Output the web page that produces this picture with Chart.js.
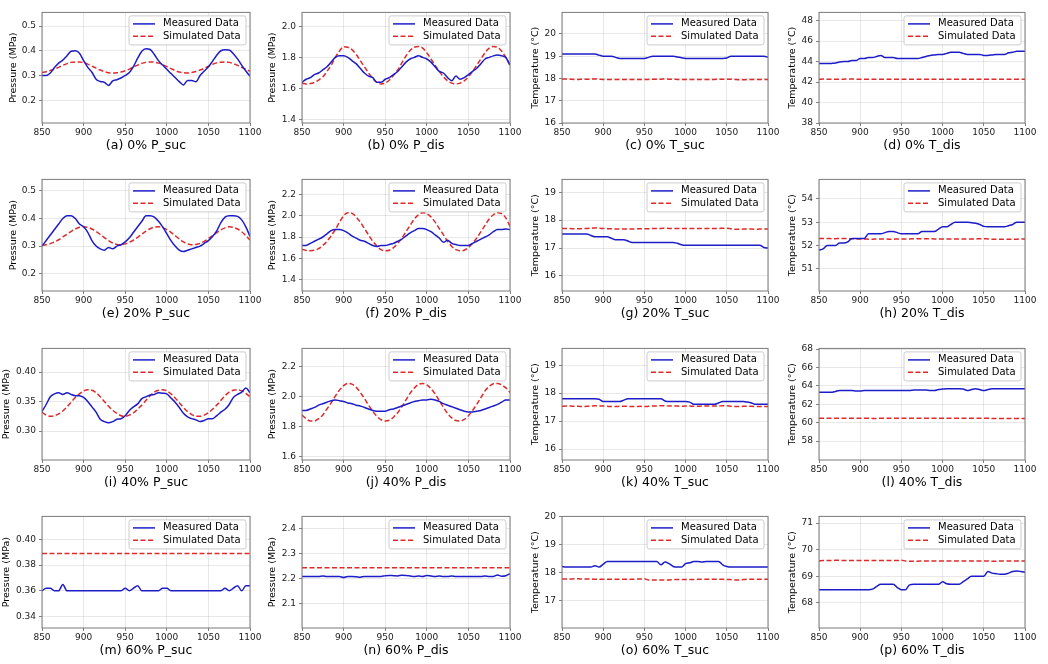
<!DOCTYPE html>
<html>
<head>
<meta charset="utf-8">
<script src="https://cdn.jsdelivr.net/npm/chart.js@4.4.0/dist/chart.umd.min.js"></script>
<style>
  body { margin: 0; background: #fff; }
  #fig { position: relative; width: 1048px; height: 664px; overflow: hidden; background: #fff; }
  #fig canvas { position: absolute; }
</style>
</head>
<body>
<div id="fig"></div>
<script>
// time axis (s), shared by every panel
var time = [850, 855, 860, 865, 870, 875, 880, 885, 890, 895,
            900, 905, 910, 915, 920, 925, 930, 935, 940, 945,
            950, 955, 960, 965, 970, 975, 980, 985, 990, 995,
            1000, 1005, 1010, 1015, 1020, 1025, 1030, 1035, 1040, 1045,
            1050, 1055, 1060, 1065, 1070, 1075, 1080, 1085, 1090, 1095,
            1100];
var xTicks = [850, 900, 950, 1000, 1050, 1100];

// (a) 0% P_suc
var measA = [0.300, 0.300, 0.310, 0.332, 0.350, 0.362, 0.380, 0.398, 0.400, 0.390,
             0.360, 0.333, 0.313, 0.285, 0.276, 0.272, 0.260, 0.278, 0.283, 0.290,
             0.300, 0.312, 0.337, 0.370, 0.398, 0.408, 0.405, 0.385, 0.360, 0.342,
             0.325, 0.308, 0.292, 0.275, 0.262, 0.280, 0.280, 0.275, 0.300, 0.318,
             0.335, 0.358, 0.382, 0.400, 0.404, 0.403, 0.388, 0.367, 0.342, 0.318,
             0.297];
var simA = [0.312, 0.315, 0.320, 0.326, 0.333, 0.341, 0.348, 0.353, 0.355, 0.355,
            0.352, 0.346, 0.338, 0.330, 0.322, 0.316, 0.311, 0.310, 0.311, 0.314,
            0.319, 0.326, 0.334, 0.342, 0.349, 0.353, 0.355, 0.354, 0.350, 0.344,
            0.336, 0.328, 0.320, 0.314, 0.311, 0.310, 0.312, 0.316, 0.322, 0.329,
            0.337, 0.345, 0.351, 0.354, 0.355, 0.353, 0.348, 0.341, 0.333, 0.325,
            0.317];
var ticksA = [0.2, 0.3, 0.4, 0.5];

// (b) 0% P_dis
var measB = [1.640, 1.660, 1.670, 1.690, 1.700, 1.720, 1.740, 1.770, 1.800, 1.810,
             1.810, 1.800, 1.780, 1.760, 1.730, 1.700, 1.680, 1.670, 1.640, 1.640,
             1.660, 1.670, 1.690, 1.710, 1.740, 1.770, 1.790, 1.800, 1.810, 1.800,
             1.790, 1.770, 1.740, 1.710, 1.700, 1.670, 1.650, 1.680, 1.660, 1.670,
             1.690, 1.710, 1.730, 1.760, 1.790, 1.800, 1.810, 1.815, 1.810, 1.800,
             1.750];
var simB = [1.635, 1.630, 1.632, 1.640, 1.655, 1.675, 1.710, 1.750, 1.800, 1.840,
            1.868, 1.865, 1.850, 1.820, 1.780, 1.740, 1.700, 1.665, 1.640, 1.630,
            1.635, 1.655, 1.685, 1.720, 1.765, 1.810, 1.845, 1.865, 1.870, 1.860,
            1.830, 1.790, 1.750, 1.710, 1.675, 1.650, 1.635, 1.630, 1.635, 1.650,
            1.675, 1.710, 1.750, 1.790, 1.830, 1.860, 1.870, 1.865, 1.840, 1.800,
            1.750];
var ticksB = [1.4, 1.6, 1.8, 2.0];

// (c) 0% T_suc
var measC = [19.10, 19.10, 19.10, 19.10, 19.10, 19.10, 19.10, 19.10, 19.10, 19.05,
             19.00, 19.00, 19.00, 18.95, 18.90, 18.90, 18.90, 18.90, 18.90, 18.90,
             18.90, 18.95, 19.00, 19.00, 19.00, 19.00, 19.00, 19.00, 18.97, 18.93,
             18.90, 18.90, 18.90, 18.90, 18.90, 18.90, 18.90, 18.90, 18.90, 18.90,
             18.92, 19.00, 19.00, 19.00, 19.00, 19.00, 19.00, 19.00, 19.00, 19.00,
             18.95];
var simC = [17.97, 17.98, 17.97, 17.96, 17.96, 17.97, 17.97, 17.97, 17.98, 17.97,
            17.96, 17.96, 17.95, 17.96, 17.96, 17.96, 17.95, 17.95, 17.95, 17.96,
            17.96, 17.96, 17.97, 17.97, 17.97, 17.98, 17.97, 17.97, 17.96, 17.96,
            17.96, 17.96, 17.96, 17.96, 17.96, 17.96, 17.96, 17.96, 17.97, 17.97,
            17.97, 17.97, 17.96, 17.94, 17.94, 17.95, 17.95, 17.95, 17.95, 17.95,
            17.95];
var ticksC = [16, 17, 18, 19, 20];

// (d) 0% T_dis
var measD = [43.80, 43.80, 43.80, 43.82, 43.85, 43.95, 44.00, 44.00, 44.10, 44.10,
             44.30, 44.30, 44.40, 44.40, 44.50, 44.60, 44.40, 44.40, 44.40, 44.30,
             44.30, 44.30, 44.30, 44.30, 44.30, 44.40, 44.50, 44.60, 44.65, 44.70,
             44.70, 44.80, 44.90, 44.90, 44.90, 44.80, 44.70, 44.70, 44.70, 44.70,
             44.60, 44.60, 44.65, 44.70, 44.70, 44.70, 44.85, 44.90, 45.00, 45.00,
             45.00];
var simD = [42.28, 42.29, 42.28, 42.28, 42.28, 42.28, 42.28, 42.29, 42.29, 42.28,
            42.28, 42.28, 42.28, 42.28, 42.28, 42.27, 42.27, 42.28, 42.28, 42.28,
            42.28, 42.28, 42.28, 42.28, 42.28, 42.28, 42.28, 42.28, 42.28, 42.28,
            42.28, 42.28, 42.28, 42.28, 42.28, 42.28, 42.28, 42.28, 42.28, 42.28,
            42.28, 42.28, 42.28, 42.27, 42.27, 42.27, 42.28, 42.28, 42.28, 42.28,
            42.28];
var ticksD = [38, 40, 42, 44, 46, 48];

// (e) 20% P_suc
var measE = [0.300, 0.320, 0.340, 0.360, 0.380, 0.400, 0.410, 0.410, 0.400, 0.380,
             0.370, 0.350, 0.320, 0.300, 0.290, 0.285, 0.295, 0.290, 0.300, 0.305,
             0.315, 0.330, 0.350, 0.370, 0.390, 0.410, 0.410, 0.405, 0.390, 0.370,
             0.345, 0.320, 0.300, 0.285, 0.280, 0.285, 0.290, 0.295, 0.300, 0.310,
             0.320, 0.335, 0.355, 0.385, 0.405, 0.410, 0.410, 0.408, 0.395, 0.370,
             0.335];
var simE = [0.303, 0.305, 0.309, 0.315, 0.323, 0.333, 0.343, 0.353, 0.362, 0.368,
            0.370, 0.368, 0.362, 0.353, 0.342, 0.331, 0.320, 0.311, 0.306, 0.305,
            0.308, 0.314, 0.322, 0.332, 0.343, 0.354, 0.363, 0.369, 0.370, 0.367,
            0.360, 0.350, 0.338, 0.326, 0.315, 0.308, 0.305, 0.306, 0.310, 0.317,
            0.327, 0.338, 0.349, 0.359, 0.366, 0.370, 0.368, 0.362, 0.352, 0.338,
            0.322];
var ticksE = [0.2, 0.3, 0.4, 0.5];

// (f) 20% P_dis
var measF = [1.720, 1.720, 1.740, 1.760, 1.780, 1.800, 1.830, 1.860, 1.870, 1.870,
             1.860, 1.840, 1.810, 1.790, 1.770, 1.760, 1.740, 1.720, 1.710, 1.720,
             1.720, 1.730, 1.740, 1.760, 1.780, 1.810, 1.840, 1.860, 1.880, 1.880,
             1.870, 1.850, 1.820, 1.790, 1.750, 1.770, 1.740, 1.730, 1.720, 1.720,
             1.720, 1.740, 1.760, 1.780, 1.800, 1.820, 1.850, 1.870, 1.870, 1.875,
             1.870];
var simF = [1.685, 1.673, 1.670, 1.675, 1.690, 1.720, 1.760, 1.810, 1.870, 1.940,
            2.000, 2.030, 2.025, 1.990, 1.940, 1.880, 1.820, 1.760, 1.715, 1.680,
            1.670, 1.675, 1.700, 1.740, 1.790, 1.850, 1.910, 1.970, 2.010, 2.030,
            2.020, 1.990, 1.940, 1.880, 1.820, 1.760, 1.710, 1.680, 1.670, 1.675,
            1.700, 1.740, 1.790, 1.850, 1.910, 1.970, 2.010, 2.030, 2.020, 1.980,
            1.900];
var ticksF = [1.4, 1.6, 1.8, 2.0, 2.2];

// (g) 20% T_suc
var measG = [17.50, 17.50, 17.50, 17.50, 17.50, 17.50, 17.50, 17.45, 17.40, 17.40,
             17.40, 17.40, 17.35, 17.30, 17.30, 17.30, 17.25, 17.20, 17.20, 17.20,
             17.20, 17.20, 17.20, 17.20, 17.20, 17.20, 17.20, 17.20, 17.17, 17.12,
             17.10, 17.10, 17.10, 17.10, 17.10, 17.10, 17.10, 17.10, 17.10, 17.10,
             17.10, 17.10, 17.10, 17.10, 17.10, 17.10, 17.10, 17.10, 17.10, 17.02,
             17.00];
var simG = [17.70, 17.70, 17.70, 17.69, 17.69, 17.70, 17.70, 17.71, 17.72, 17.71,
            17.70, 17.69, 17.69, 17.68, 17.68, 17.68, 17.68, 17.68, 17.69, 17.69,
            17.69, 17.69, 17.70, 17.70, 17.70, 17.71, 17.70, 17.70, 17.70, 17.70,
            17.70, 17.70, 17.70, 17.70, 17.70, 17.70, 17.70, 17.70, 17.70, 17.71,
            17.71, 17.69, 17.67, 17.67, 17.68, 17.68, 17.68, 17.67, 17.68, 17.68,
            17.68];
var ticksG = [16, 17, 18, 19];

// (h) 20% T_dis
var measH = [51.80, 51.85, 52.00, 52.00, 52.00, 52.10, 52.10, 52.15, 52.30, 52.30,
             52.30, 52.30, 52.50, 52.50, 52.50, 52.50, 52.55, 52.60, 52.60, 52.55,
             52.50, 52.50, 52.50, 52.50, 52.50, 52.60, 52.60, 52.60, 52.60, 52.70,
             52.80, 52.80, 52.90, 53.00, 53.00, 53.00, 53.00, 52.98, 52.95, 52.90,
             52.82, 52.80, 52.80, 52.80, 52.80, 52.80, 52.85, 52.90, 53.00, 53.00,
             53.00];
var simH = [52.30, 52.30, 52.30, 52.29, 52.29, 52.30, 52.30, 52.29, 52.29, 52.28,
            52.28, 52.28, 52.27, 52.27, 52.28, 52.28, 52.28, 52.27, 52.27, 52.28,
            52.28, 52.28, 52.28, 52.29, 52.29, 52.29, 52.29, 52.29, 52.28, 52.28,
            52.28, 52.28, 52.28, 52.28, 52.28, 52.28, 52.28, 52.28, 52.28, 52.29,
            52.29, 52.28, 52.27, 52.27, 52.27, 52.27, 52.27, 52.27, 52.27, 52.28,
            52.28];
var ticksH = [51, 52, 53, 54];

// (i) 40% P_suc
var measI = [0.333, 0.345, 0.358, 0.363, 0.365, 0.362, 0.365, 0.362, 0.360, 0.360,
             0.357, 0.350, 0.341, 0.332, 0.320, 0.316, 0.314, 0.316, 0.320, 0.321,
             0.326, 0.335, 0.341, 0.346, 0.355, 0.358, 0.361, 0.362, 0.365, 0.364,
             0.363, 0.356, 0.349, 0.340, 0.330, 0.324, 0.321, 0.319, 0.316, 0.318,
             0.321, 0.321, 0.326, 0.332, 0.337, 0.345, 0.357, 0.362, 0.366, 0.373,
             0.365];
var simI = [0.332, 0.327, 0.325, 0.326, 0.329, 0.334, 0.341, 0.349, 0.357, 0.363,
            0.368, 0.370, 0.369, 0.365, 0.358, 0.350, 0.342, 0.335, 0.330, 0.326,
            0.325, 0.327, 0.331, 0.337, 0.344, 0.352, 0.360, 0.366, 0.369, 0.370,
            0.368, 0.363, 0.356, 0.348, 0.340, 0.333, 0.328, 0.325, 0.325, 0.327,
            0.331, 0.337, 0.344, 0.352, 0.360, 0.366, 0.369, 0.370, 0.368, 0.364,
            0.358];
var ticksI = [0.30, 0.35, 0.40];

// (j) 40% P_dis
var measJ = [1.910, 1.910, 1.920, 1.930, 1.945, 1.955, 1.965, 1.975, 1.980, 1.975,
             1.970, 1.960, 1.955, 1.945, 1.940, 1.930, 1.920, 1.910, 1.905, 1.905,
             1.905, 1.915, 1.920, 1.930, 1.940, 1.950, 1.960, 1.970, 1.975, 1.980,
             1.980, 1.985, 1.980, 1.970, 1.955, 1.945, 1.935, 1.925, 1.915, 1.905,
             1.900, 1.900, 1.905, 1.910, 1.920, 1.930, 1.940, 1.950, 1.965, 1.980,
             1.980];
var simJ = [1.880, 1.855, 1.840, 1.840, 1.855, 1.880, 1.920, 1.960, 2.005, 2.045,
            2.075, 2.090, 2.085, 2.065, 2.030, 1.990, 1.945, 1.905, 1.870, 1.848,
            1.840, 1.845, 1.865, 1.895, 1.935, 1.980, 2.025, 2.060, 2.083, 2.090,
            2.080, 2.055, 2.020, 1.975, 1.930, 1.890, 1.860, 1.843, 1.840, 1.850,
            1.875, 1.910, 1.950, 1.995, 2.040, 2.070, 2.088, 2.090, 2.080, 2.060,
            2.030];
var ticksJ = [1.6, 1.8, 2.0, 2.2];

// (k) 40% T_suc
var measK = [17.80, 17.80, 17.80, 17.80, 17.80, 17.80, 17.80, 17.80, 17.80, 17.78,
             17.70, 17.70, 17.70, 17.70, 17.70, 17.75, 17.80, 17.80, 17.80, 17.80,
             17.80, 17.80, 17.80, 17.80, 17.80, 17.72, 17.70, 17.70, 17.70, 17.70,
             17.70, 17.68, 17.60, 17.60, 17.60, 17.60, 17.60, 17.60, 17.65, 17.70,
             17.70, 17.70, 17.70, 17.70, 17.70, 17.68, 17.65, 17.60, 17.60, 17.60,
             17.60];
var simK = [17.53, 17.54, 17.54, 17.53, 17.53, 17.52, 17.53, 17.54, 17.55, 17.54,
            17.54, 17.53, 17.52, 17.52, 17.53, 17.53, 17.53, 17.52, 17.52, 17.53,
            17.52, 17.53, 17.54, 17.54, 17.55, 17.55, 17.54, 17.54, 17.54, 17.53,
            17.54, 17.54, 17.53, 17.53, 17.54, 17.54, 17.54, 17.54, 17.54, 17.55,
            17.55, 17.53, 17.52, 17.52, 17.53, 17.53, 17.53, 17.52, 17.52, 17.52,
            17.52];
var ticksK = [16, 17, 18, 19];

// (l) 40% T_dis
var measL = [63.30, 63.30, 63.30, 63.30, 63.40, 63.50, 63.50, 63.50, 63.50, 63.45,
             63.45, 63.50, 63.50, 63.50, 63.50, 63.50, 63.50, 63.50, 63.50, 63.50,
             63.50, 63.50, 63.50, 63.55, 63.55, 63.55, 63.55, 63.50, 63.50, 63.60,
             63.65, 63.70, 63.70, 63.70, 63.70, 63.65, 63.50, 63.60, 63.70, 63.60,
             63.50, 63.60, 63.70, 63.70, 63.70, 63.70, 63.70, 63.70, 63.70, 63.70,
             63.70];
var simL = [60.48, 60.48, 60.49, 60.49, 60.48, 60.48, 60.48, 60.49, 60.49, 60.48,
            60.48, 60.48, 60.48, 60.47, 60.47, 60.48, 60.48, 60.48, 60.48, 60.48,
            60.48, 60.48, 60.48, 60.48, 60.48, 60.48, 60.48, 60.48, 60.48, 60.48,
            60.48, 60.48, 60.48, 60.48, 60.48, 60.48, 60.48, 60.48, 60.48, 60.48,
            60.49, 60.48, 60.47, 60.47, 60.47, 60.47, 60.47, 60.47, 60.47, 60.47,
            60.47];
var ticksL = [58, 60, 62, 64, 66, 68];

// (m) 60% P_suc
var measM = [0.360, 0.362, 0.362, 0.360, 0.360, 0.365, 0.360, 0.360, 0.360, 0.360,
             0.360, 0.360, 0.360, 0.360, 0.360, 0.360, 0.360, 0.360, 0.360, 0.360,
             0.362, 0.360, 0.362, 0.364, 0.360, 0.360, 0.360, 0.360, 0.360, 0.362,
             0.362, 0.360, 0.360, 0.360, 0.360, 0.360, 0.360, 0.360, 0.360, 0.360,
             0.360, 0.360, 0.360, 0.360, 0.362, 0.360, 0.362, 0.364, 0.360, 0.364,
             0.364];
var simM = [0.389, 0.389, 0.389, 0.389, 0.389, 0.389, 0.389, 0.389, 0.389, 0.389,
            0.389, 0.389, 0.389, 0.389, 0.389, 0.389, 0.389, 0.389, 0.389, 0.389,
            0.389, 0.389, 0.389, 0.389, 0.389, 0.389, 0.389, 0.389, 0.389, 0.389,
            0.389, 0.389, 0.389, 0.389, 0.389, 0.389, 0.389, 0.389, 0.389, 0.389,
            0.389, 0.389, 0.389, 0.389, 0.389, 0.389, 0.389, 0.389, 0.389, 0.389,
            0.389];
var ticksM = [0.34, 0.36, 0.38, 0.40];

// (n) 60% P_dis
var measN = [2.210, 2.210, 2.210, 2.210, 2.210, 2.212, 2.210, 2.210, 2.210, 2.210,
             2.206, 2.210, 2.210, 2.209, 2.207, 2.210, 2.210, 2.210, 2.210, 2.210,
             2.213, 2.214, 2.213, 2.212, 2.215, 2.214, 2.212, 2.210, 2.212, 2.210,
             2.214, 2.212, 2.210, 2.212, 2.210, 2.210, 2.212, 2.210, 2.210, 2.210,
             2.210, 2.210, 2.210, 2.210, 2.212, 2.210, 2.210, 2.216, 2.211, 2.213,
             2.221];
var simN = [2.245, 2.245, 2.245, 2.245, 2.245, 2.245, 2.245, 2.245, 2.245, 2.245,
            2.245, 2.245, 2.245, 2.245, 2.245, 2.245, 2.245, 2.245, 2.245, 2.245,
            2.245, 2.245, 2.245, 2.245, 2.245, 2.245, 2.245, 2.245, 2.245, 2.245,
            2.245, 2.245, 2.245, 2.245, 2.245, 2.245, 2.245, 2.245, 2.245, 2.245,
            2.245, 2.245, 2.245, 2.245, 2.245, 2.245, 2.245, 2.245, 2.245, 2.245,
            2.245];
var ticksN = [2.1, 2.2, 2.3, 2.4];

// (o) 60% T_suc
var measO = [18.22, 18.20, 18.20, 18.20, 18.20, 18.20, 18.20, 18.20, 18.25, 18.20,
             18.30, 18.40, 18.40, 18.40, 18.40, 18.40, 18.40, 18.40, 18.40, 18.40,
             18.40, 18.40, 18.40, 18.40, 18.28, 18.38, 18.32, 18.22, 18.20, 18.20,
             18.32, 18.35, 18.40, 18.40, 18.38, 18.40, 18.40, 18.40, 18.40, 18.28,
             18.22, 18.20, 18.20, 18.20, 18.20, 18.20, 18.20, 18.20, 18.20, 18.20,
             18.20];
var simO = [17.77, 17.77, 17.77, 17.78, 17.78, 17.77, 17.77, 17.77, 17.76, 17.76,
            17.76, 17.76, 17.76, 17.76, 17.76, 17.76, 17.76, 17.76, 17.77, 17.77,
            17.78, 17.74, 17.74, 17.74, 17.74, 17.74, 17.74, 17.75, 17.75, 17.75,
            17.75, 17.75, 17.75, 17.76, 17.76, 17.76, 17.76, 17.76, 17.76, 17.76,
            17.75, 17.75, 17.74, 17.74, 17.75, 17.76, 17.76, 17.76, 17.76, 17.76,
            17.76];
var ticksO = [17, 18, 19, 20];

// (p) 60% T_dis
var measP = [68.50, 68.50, 68.50, 68.50, 68.50, 68.50, 68.50, 68.50, 68.50, 68.50,
             68.50, 68.50, 68.50, 68.52, 68.62, 68.70, 68.70, 68.70, 68.70, 68.58,
             68.50, 68.50, 68.68, 68.70, 68.70, 68.70, 68.70, 68.70, 68.70, 68.70,
             68.80, 68.72, 68.70, 68.70, 68.70, 68.80, 68.90, 69.00, 69.00, 69.00,
             69.00, 69.18, 69.12, 69.10, 69.08, 69.08, 69.12, 69.18, 69.20, 69.18,
             69.15];
var simP = [69.58, 69.59, 69.59, 69.59, 69.60, 69.60, 69.59, 69.59, 69.59, 69.59,
            69.59, 69.59, 69.59, 69.59, 69.59, 69.59, 69.59, 69.59, 69.59, 69.59,
            69.60, 69.58, 69.57, 69.57, 69.57, 69.58, 69.58, 69.58, 69.58, 69.58,
            69.58, 69.58, 69.58, 69.58, 69.58, 69.58, 69.58, 69.58, 69.58, 69.58,
            69.58, 69.58, 69.57, 69.57, 69.58, 69.58, 69.58, 69.58, 69.58, 69.58,
            69.58];
var ticksP = [68, 69, 70, 71];

var P_LABEL = 'Pressure (MPa)';
var T_LABEL = 'Temperature (\u00B0C)';

// one entry per subplot, row by row
var panels = [
  { cap: '(a) 0% P_suc',  meas: measA, sim: simA, ticks: ticksA, yMin: 0.108, yMax: 0.555, dec: 1, yLab: P_LABEL },
  { cap: '(b) 0% P_dis',  meas: measB, sim: simB, ticks: ticksB, yMin: 1.379, yMax: 2.089, dec: 1, yLab: P_LABEL },
  { cap: '(c) 0% T_suc',  meas: measC, sim: simC, ticks: ticksC, yMin: 16.0,  yMax: 20.97, dec: 0, yLab: T_LABEL },
  { cap: '(d) 0% T_dis',  meas: measD, sim: simD, ticks: ticksD, yMin: 38.0,  yMax: 48.8,  dec: 0, yLab: T_LABEL },
  { cap: '(e) 20% P_suc', meas: measE, sim: simE, ticks: ticksE, yMin: 0.137, yMax: 0.542, dec: 1, yLab: P_LABEL },
  { cap: '(f) 20% P_dis', meas: measF, sim: simF, ticks: ticksF, yMin: 1.29,  yMax: 2.344, dec: 1, yLab: P_LABEL },
  { cap: '(g) 20% T_suc', meas: measG, sim: simG, ticks: ticksG, yMin: 15.46, yMax: 19.46, dec: 0, yLab: T_LABEL },
  { cap: '(h) 20% T_dis', meas: measH, sim: simH, ticks: ticksH, yMin: 50.04, yMax: 54.84, dec: 0, yLab: T_LABEL },
  { cap: '(i) 40% P_suc', meas: measI, sim: simI, ticks: ticksI, yMin: 0.251, yMax: 0.44,  dec: 2, yLab: P_LABEL },
  { cap: '(j) 40% P_dis', meas: measJ, sim: simJ, ticks: ticksJ, yMin: 1.58,  yMax: 2.323, dec: 1, yLab: P_LABEL },
  { cap: '(k) 40% T_suc', meas: measK, sim: simK, ticks: ticksK, yMin: 15.61, yMax: 19.6,  dec: 0, yLab: T_LABEL },
  { cap: '(l) 40% T_dis', meas: measL, sim: simL, ticks: ticksL, yMin: 55.95, yMax: 68.07, dec: 0, yLab: T_LABEL },
  { cap: '(m) 60% P_suc', meas: measM, sim: simM, ticks: ticksM, yMin: 0.331, yMax: 0.418, dec: 2, yLab: P_LABEL },
  { cap: '(n) 60% P_dis', meas: measN, sim: simN, ticks: ticksN, yMin: 2.004, yMax: 2.45,  dec: 1, yLab: P_LABEL },
  { cap: '(o) 60% T_suc', meas: measO, sim: simO, ticks: ticksO, yMin: 16.02, yMax: 20.01, dec: 0, yLab: T_LABEL },
  { cap: '(p) 60% T_dis', meas: measP, sim: simP, ticks: ticksP, yMin: 67.06, yMax: 71.25, dec: 0, yLab: T_LABEL }
];

// grid geometry (px) of the plot frames
var plotLeft = [42, 302, 562, 819];
var plotW = [208, 208, 206, 206];
var plotTop = [12, 179, 348, 516];
var plotH = [111, 112, 112, 112];
var titleX = [14, 13, 16, 16, 14, 13, 16, 16, 7, 13, 16, 16, 7, 13, 16, 16];
var Y_AX = 42, X_AX = 36, PAD_T = 8, PAD_R = 14;

Chart.defaults.font.family = "'DejaVu Sans', 'Liberation Sans', sans-serif";
Chart.defaults.color = '#1a1a1a';

// matplotlib-like frame plus a boxed legend in the upper right corner
var frameAndLegend = {
  id: 'frameAndLegend',
  afterDatasetsDraw: function (chart) {
    var a = chart.chartArea, ctx = chart.ctx;
    ctx.save();
    ctx.strokeStyle = '#7a7a7a';
    ctx.lineWidth = 1;
    ctx.strokeRect(a.left, a.top, a.right - a.left, a.bottom - a.top);

    var x0 = a.right - 121, y0 = a.top + 3.5;
    ctx.fillStyle = 'rgba(255,255,255,0.85)';
    ctx.strokeStyle = '#cccccc';
    ctx.beginPath();
    ctx.roundRect(x0, y0, 117, 29, 2);
    ctx.fill();
    ctx.stroke();
    chart.data.datasets.forEach(function (ds, k) {
      var y = y0 + 8 + k * 12.3;
      ctx.strokeStyle = ds.borderColor;
      ctx.lineWidth = ds.borderWidth;
      ctx.setLineDash(ds.borderDash || []);
      ctx.beginPath();
      ctx.moveTo(x0 + 4, y);
      ctx.lineTo(x0 + 26, y);
      ctx.stroke();
      ctx.setLineDash([]);
      ctx.fillStyle = '#000';
      ctx.font = "10px 'DejaVu Sans'";
      ctx.textBaseline = 'middle';
      ctx.textAlign = 'left';
      ctx.fillText(ds.label, x0 + 34, y);
    });
    ctx.restore();
  }
};

var fig = document.getElementById('fig');

panels.forEach(function (p, i) {
  var col = i % 4, row = Math.floor(i / 4);
  var w = Y_AX + plotW[col] + PAD_R;
  var h = PAD_T + plotH[row] + X_AX;
  var cv = document.createElement('canvas');
  cv.width = w;
  cv.height = h;
  cv.style.left = (plotLeft[col] - Y_AX) + 'px';
  cv.style.top = (plotTop[row] - PAD_T) + 'px';
  fig.appendChild(cv);

  var toXY = function (arr) {
    return time.map(function (t, k) { return { x: t, y: arr[k] }; });
  };

  new Chart(cv.getContext('2d'), {
    type: 'line',
    data: {
      datasets: [
        {
          label: 'Measured Data',
          data: toXY(p.meas),
          borderColor: '#1c1cc8',
          borderWidth: 1.5,
          pointRadius: 0,
          cubicInterpolationMode: 'monotone'
        },
        {
          label: 'Simulated Data',
          data: toXY(p.sim),
          borderColor: '#e02a2a',
          borderWidth: 1.5,
          borderDash: [5, 2.5],
          pointRadius: 0,
          cubicInterpolationMode: 'monotone'
        }
      ]
    },
    options: {
      responsive: false,
      animation: false,
      events: [],
      layout: { padding: { top: PAD_T, right: PAD_R, left: 0, bottom: 0 } },
      plugins: { legend: { display: false }, tooltip: { enabled: false } },
      scales: {
        x: {
          type: 'linear',
          min: 850,
          max: 1100,
          afterBuildTicks: function (s) {
            s.ticks = xTicks.map(function (v) { return { value: v }; });
          },
          afterFit: function (s) { s.height = X_AX; },
          border: { display: false },
          grid: { color: 'rgba(0,0,0,0.09)', tickColor: '#808080', tickLength: 3 },
          ticks: {
            font: { size: 9 },
            padding: 1,
            maxRotation: 0,
            autoSkip: false,
            callback: function (v) { return String(v); }
          },
          title: {
            display: true,
            text: p.cap,
            color: '#000',
            font: { size: 12.5 },
            padding: { top: 0, bottom: 6 }
          }
        },
        y: {
          type: 'linear',
          min: p.yMin,
          max: p.yMax,
          afterBuildTicks: function (s) {
            s.ticks = p.ticks.map(function (v) { return { value: v }; });
          },
          afterFit: function (s) { s.width = Y_AX; },
          border: { display: false },
          grid: { color: 'rgba(0,0,0,0.09)', tickColor: '#808080', tickLength: 3 },
          ticks: {
            font: { size: 9 },
            padding: 3,
            callback: function (v) { return Number(v).toFixed(p.dec); }
          },
          title: {
            display: true,
            text: p.yLab,
            color: '#000',
            font: { size: 9.5 },
            padding: { top: titleX[i] - 5.7, bottom: 0 }
          }
        }
      }
    },
    plugins: [frameAndLegend]
  });
});
</script>
</body>
</html>
